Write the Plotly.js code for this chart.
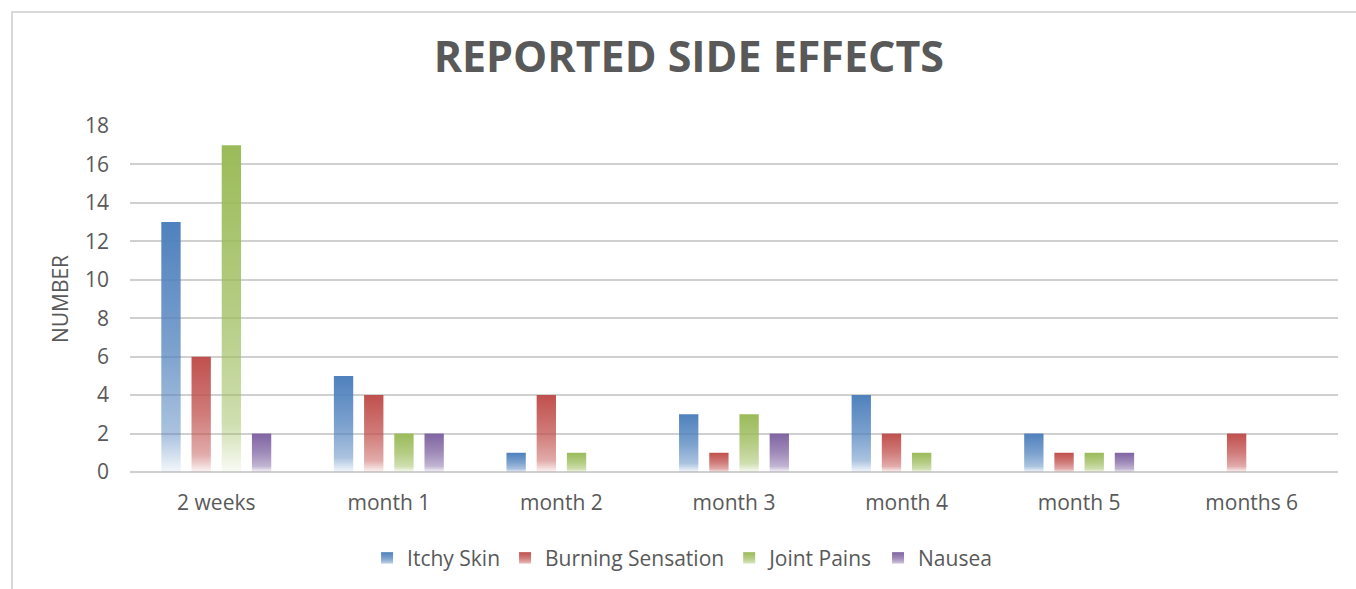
<!DOCTYPE html>
<html>
<head>
<meta charset="utf-8">
<script src="https://cdn.plot.ly/plotly-3.0.1.min.js"></script>
<style>
html,body{margin:0;padding:0;background:#fff;overflow:hidden;}
#wrap{position:relative;width:1356px;height:589px;}
#chart{width:1356px;height:589px;}
#frame{position:absolute;left:11px;top:11px;width:1400px;height:700px;border:2px solid #d9d9d9;pointer-events:none;box-sizing:border-box;}
</style>
</head>
<body>
<div id="wrap"><div id="chart"></div><div id="frame"></div></div>
<script>
const categories = ["2 weeks","month 1","month 2","month 3","month 4","month 5","months 6"];
const itchySkin = [13,5,1,3,4,2,0];
const burningSensation = [6,4,4,1,2,1,2];
const jointPains = [17,2,1,3,1,1,0];
const nausea = [2,2,0,2,0,1,0];
const seriesNames = ["Itchy Skin","Burning Sensation","Joint Pains","Nausea"];
const seriesColors = ["#4f81bd","#c0504d","#9bbb59","#8064a2"];
const seriesValues = [itchySkin,burningSensation,jointPains,nausea];
const yTicks = [0,2,4,6,8,10,12,14,16,18];

const traces = seriesValues.map((vals,i)=>({
  type:'bar', name:seriesNames[i], x:categories, y:vals,
  marker:{color:seriesColors[i], line:{width:0}},
  hoverinfo:'x+y+name'
}));

const layout = {
  width:1356, height:589,
  margin:{l:130,r:18,t:126,b:117,autoexpand:false},
  paper_bgcolor:'#ffffff', plot_bgcolor:'#ffffff',
  font:{family:"'Open Sans', sans-serif", color:'#595959', size:21},
  title:{text:'REPORTED SIDE EFFECTS', font:{family:"'Open Sans', sans-serif", size:43, color:'#595959', weight:700},
         x:0.508, xanchor:'center', y:1-57/589, yanchor:'middle'},
  barmode:'group', bargap:0.30, bargroupgap:0.36,
  xaxis:{type:'category', showgrid:false, showline:false, zeroline:false, ticks:'', automargin:false,
         tickfont:{size:21,color:'#595959'}, ticklabelstandoff:16},
  yaxis:{range:[0,18], tickvals:yTicks, ticktext:yTicks.map(String), showgrid:true, gridcolor:'#d0d0d0', gridwidth:2,
         zeroline:true, zerolinecolor:'#d0d0d0', zerolinewidth:2, showline:false, ticks:'', automargin:false,
         tickfont:{size:21,color:'#595959'}, ticklabelstandoff:20,
         title:{text:'NUMBER', font:{size:21,color:'#595959'}, standoff:10}},
  legend:{orientation:'h', x:0.457, xanchor:'center', y:-0.25, yanchor:'middle',
          font:{size:21,color:'#595959'}, itemwidth:30},
  showlegend:true
};

Plotly.newPlot('chart', traces, layout, {displayModeBar:false, staticPlot:true}).then(gd=>{
  const svgNS='http://www.w3.org/2000/svg';
  const svg = gd.querySelector('svg.main-svg');
  const defs = document.createElementNS(svgNS,'defs');
  seriesColors.forEach((c,i)=>{
    const g=document.createElementNS(svgNS,'linearGradient');
    g.setAttribute('id','bargrad'+i);
    g.setAttribute('x1','0');g.setAttribute('y1','0');g.setAttribute('x2','0');g.setAttribute('y2','1');
    [[0,1],[0.5,0.75],[0.85,0.48],[1,0.06]].forEach(([o,a])=>{
      const s=document.createElementNS(svgNS,'stop');
      s.setAttribute('offset',o);s.setAttribute('stop-color',c);s.setAttribute('stop-opacity',a);
      g.appendChild(s);
    });
    defs.appendChild(g);
  });
  svg.insertBefore(defs, svg.firstChild);
  gd.querySelectorAll('.barlayer .trace.bars').forEach((t,i)=>{
    t.querySelectorAll('path').forEach(p=>{p.style.fill='url(#bargrad'+i+')';});
  });
  gd.querySelectorAll('.legend .traces').forEach((t,i)=>{
    t.querySelectorAll('.legendpoints path').forEach(p=>{p.style.fill='url(#bargrad'+i+')';});
  });
});
</script>
</body>
</html>
